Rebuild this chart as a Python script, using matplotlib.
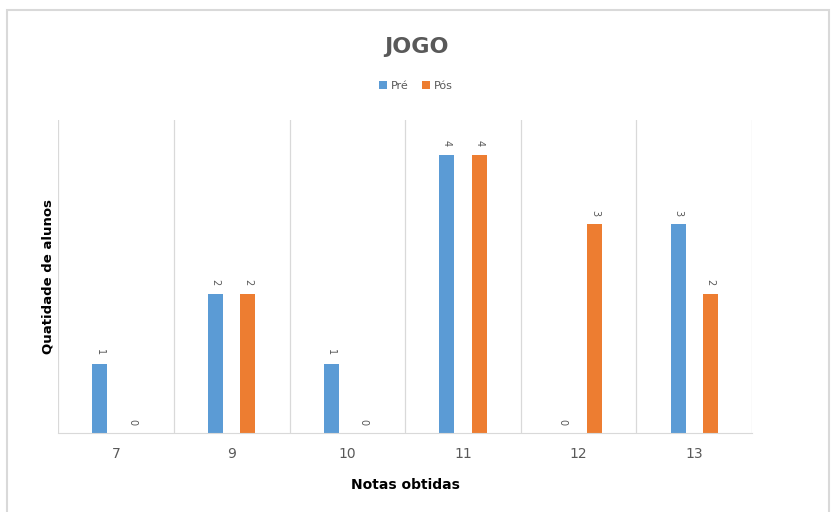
import matplotlib.pyplot as plt
import numpy as np
from matplotlib.patches import Rectangle

notas = ["7", "9", "10", "11", "12", "13"]
pre = [1, 2, 1, 4, 0, 3]
pos = [0, 2, 0, 4, 3, 2]

azul = "#5B9BD5"
laranja = "#ED7D31"
cinza = "#595959"

fig = plt.figure(figsize=(8.32, 5.12), dpi=100)
ax = fig.add_axes([0.070, 0.154, 0.834, 0.612])

# moldura do grafico
fig.patches.append(Rectangle((0.008, -0.1), 0.988, 1.08, transform=fig.transFigure,
                             fill=False, edgecolor="#D9D9D9", linewidth=1.5))

idx = np.arange(len(notas))
w = 0.13
b1 = ax.bar(idx - 0.14, pre, w, color=azul, label="Pré")
b2 = ax.bar(idx + 0.14, pos, w, color=laranja, label="Pós")
ax.bar_label(b1, labels=pre, rotation=270, padding=6, fontsize=7, color=cinza)
ax.bar_label(b2, labels=pos, rotation=270, padding=6, fontsize=7, color=cinza)

ax.set_xlim(-0.5, len(notas) - 0.5)
ax.set_ylim(0, 4.5)
ax.set_yticks([])
ax.set_xticks(idx)
ax.set_xticklabels(notas, color=cinza, fontsize=10)
ax.tick_params(axis="x", length=0, pad=10)

for xg in np.arange(-0.5, len(notas), 1.0):
    ax.axvline(xg, color="#D9D9D9", linewidth=0.9, zorder=0)

for s in ["top", "right", "left"]:
    ax.spines[s].set_visible(False)
ax.spines["bottom"].set_color("#D9D9D9")

ax.set_xlabel("Notas obtidas", fontsize=10, fontweight="bold", labelpad=12)
ax.set_ylabel("Quatidade de alunos", fontsize=9.5, fontweight="bold", labelpad=3)

fig.text(0.5, 0.908, "JOGO", ha="center", va="center", fontsize=16,
         fontweight="bold", color=cinza)
fig.legend(loc="center", bbox_to_anchor=(0.5, 0.832), ncol=2, frameon=False,
           fontsize=8, handlelength=0.7, handleheight=0.7, columnspacing=1.2,
           handletextpad=0.4, labelcolor=cinza)

plt.savefig("out.png", dpi=100)
